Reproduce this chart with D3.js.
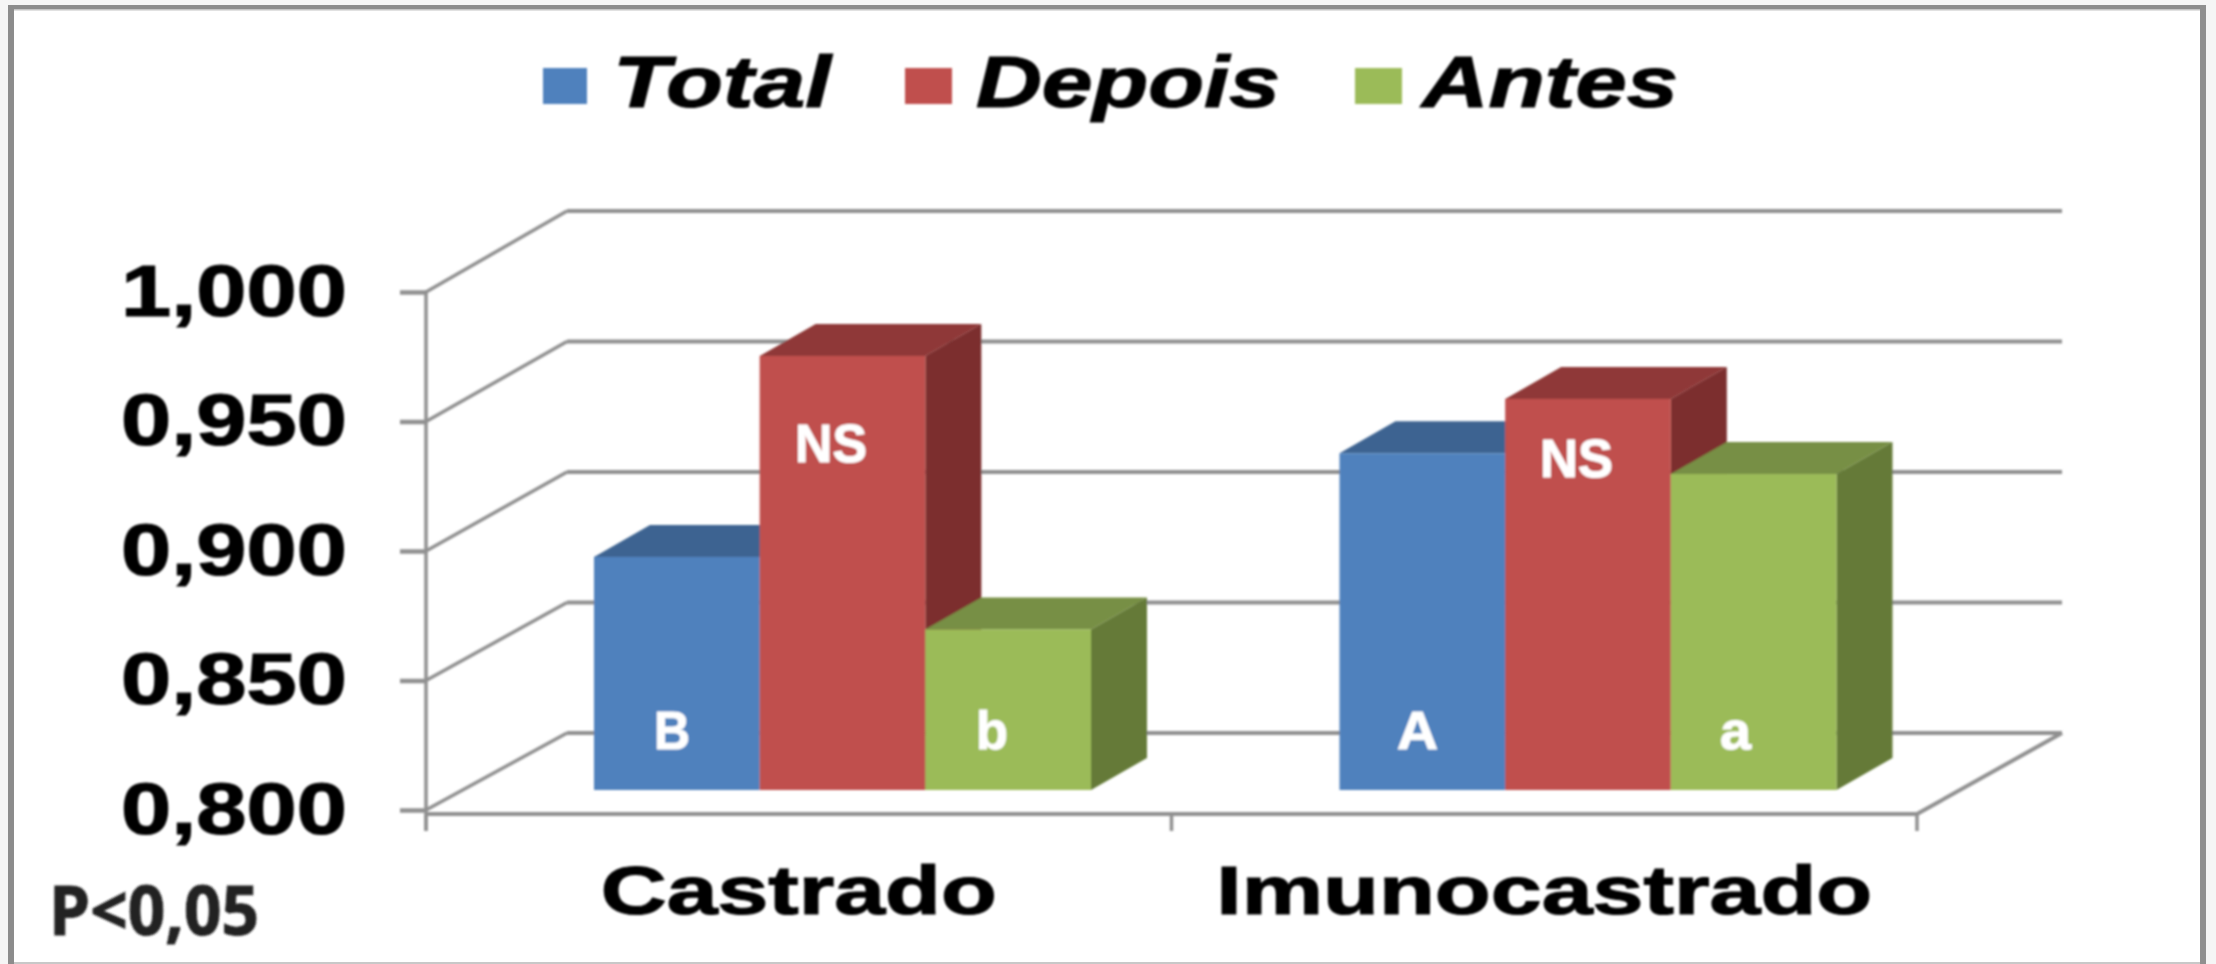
<!DOCTYPE html>
<html lang="pt">
<head>
<meta charset="utf-8">
<title>Total, Depois, Antes</title>
<script src="https://cdn.jsdelivr.net/npm/d3@7/dist/d3.min.js"></script>
<style>
html,body{margin:0;padding:0;background:#f5f5f5;overflow:hidden}
svg{display:block}
</style>
</head>
<body>
<svg id="chart" width="2216" height="964"></svg>
<script>
// ---- data ----
const categories = ["Castrado", "Imunocastrado"];
const seriesNames = ["Total", "Depois", "Antes"];
const totalValues = [0.890, 0.930];
const depoisValues = [0.9676, 0.951];
const antesValues = [0.862, 0.922];
const yTicks = [0.8, 0.85, 0.9, 0.95, 1.0];
const seriesColors = ["#4f81bd", "#c0504d", "#9bbb59"];
const topColors = ["#3e6491", "#8f3937", "#778f45"];
const sideColors = ["#355a85", "#7b2f2e", "#657a38"];
const barLetters = [["B", "NS", "b"], ["A", "NS", "a"]];

// ---- layout ----
const svg = d3.select("#chart");
const W = 2216, H = 964;
const LATIN = "'Liberation Sans', Arial, sans-serif";
const GRID = "#909090";
const wall = {x: 426, backX: 567, rightBack: 2062, rightFront: 1917};
const depth = {dx: 56, dy: 32};

const yFront = d3.scaleLinear().domain([0.8, 1]).range([810, 292]);
const yBack = d3.scaleLinear().domain([0.8, 1]).range([733, 211]);
const yBar = d3.scaleLinear().domain([0.8, 1]).range([790, 272]);
const x0 = d3.scaleBand().domain(categories).range([wall.x, wall.rightFront]);
const x1 = d3.scaleBand().domain(seriesNames).range([168, 665]);
const valuesBySeries = [totalValues, depoisValues, antesValues];

const defs = svg.append("defs");
defs.append("filter").attr("id", "soft").attr("x", "-2%").attr("y", "-2%").attr("width", "104%").attr("height", "104%")
  .append("feGaussianBlur").attr("stdDeviation", 1.1);

// frame and page
svg.append("rect").attr("width", W).attr("height", H).attr("fill", "#f5f5f5");
svg.append("rect").attr("x", 14).attr("y", 9).attr("width", 2186).attr("height", 953).attr("fill", "#fff");
const frame = svg.append("g");
frame.append("rect").attr("x", 8).attr("y", 5).attr("width", 6).attr("height", 959).attr("fill", "#8c8c8c");
frame.append("rect").attr("x", 8).attr("y", 5).attr("width", 2198).attr("height", 4).attr("fill", "#8c8c8c");
frame.append("rect").attr("x", 2200).attr("y", 5).attr("width", 6).attr("height", 959).attr("fill", "#8f8f8f");
frame.append("rect").attr("x", 14).attr("y", 9).attr("width", 2186).attr("height", 1.5).attr("fill", "#c4c4c4");
frame.append("rect").attr("x", 14).attr("y", 962).attr("width", 2186).attr("height", 2).attr("fill", "#c8c8c8");

const root = svg.append("g").attr("filter", "url(#soft)");

// back wall gridlines and side wall diagonals
const grid = root.append("g").attr("fill", "none").attr("stroke", GRID);
grid.selectAll("line.back").data(yTicks).join("line").attr("class", "back")
  .attr("x1", wall.backX).attr("x2", wall.rightBack)
  .attr("y1", d => yBack(d)).attr("y2", d => yBack(d)).attr("stroke-width", 4);
grid.selectAll("line.side").data(yTicks).join("line").attr("class", "side")
  .attr("x1", wall.x).attr("x2", wall.backX)
  .attr("y1", d => yFront(d)).attr("y2", d => yBack(d)).attr("stroke-width", 3.5);

// floor edges
const floorY = yFront(0.8) + 4;
grid.append("path")
  .attr("d", `M${wall.x},${floorY}L${wall.rightFront},${floorY}L${wall.rightBack},${yBack(0.8)}`)
  .attr("stroke-width", 4);

// y axis with ticks and labels
const axisY = root.append("g").attr("transform", `translate(${wall.x},0)`)
  .call(d3.axisLeft(yFront).tickValues(yTicks).tickSize(26)
    .tickFormat(d => d3.format(".3f")(d).replace(".", ",")));
axisY.select(".domain").remove();
axisY.append("line").attr("y1", yFront(1)).attr("y2", 831).attr("stroke", GRID).attr("stroke-width", 3.5);
axisY.selectAll(".tick line").attr("stroke", GRID).attr("stroke-width", 4.5);
axisY.selectAll(".tick text")
  .attr("x", -79).attr("y", 23).attr("dy", 0)
  .attr("text-anchor", "end").attr("fill", "#000")
  .attr("stroke", "#000").attr("stroke-width", 1.2)
  .style("font", `bold 72px ${LATIN}`)
  .attr("textLength", 226).attr("lengthAdjust", "spacingAndGlyphs");

// x axis ticks at the category boundaries
const xBoundaries = [...categories.map(c => x0(c)), wall.rightFront];
root.append("g").selectAll("line").data(xBoundaries).join("line")
  .attr("x1", d => d).attr("x2", d => d).attr("y1", floorY).attr("y2", 831)
  .attr("stroke", GRID).attr("stroke-width", 3.5);

// 3D bars
categories.forEach((cat, ci) => {
  const group = root.append("g").attr("transform", `translate(${x0(cat)},0)`);
  seriesNames.forEach((name, si) => {
    const v = valuesBySeries[si][ci];
    const l = x1(name), r = l + x1.bandwidth(), t = yBar(v), b = yBar(0.8);
    const g = group.append("g");
    g.append("path").attr("fill", sideColors[si])
      .attr("d", d3.line()([[r, t], [r + depth.dx, t - depth.dy], [r + depth.dx, b - depth.dy], [r, b]]) + "Z");
    g.append("path").attr("fill", topColors[si])
      .attr("d", d3.line()([[l, t], [l + depth.dx, t - depth.dy], [r + depth.dx, t - depth.dy], [r, t]]) + "Z");
    g.append("rect").attr("x", l).attr("y", t).attr("width", r - l).attr("height", b - t)
      .attr("fill", seriesColors[si]);
  });
});

// white letters on the bars
const letterBoxes = [
  [{x: 654, w: 36, y: 749}, {x: 795, w: 72, y: 462}, {x: 976, w: 32, y: 749}],
  [{x: 1397, w: 41, y: 749}, {x: 1540, w: 73, y: 477}, {x: 1720, w: 31, y: 749}]
];
barLetters.forEach((row, ci) => row.forEach((txt, si) => {
  const p = letterBoxes[ci][si];
  root.append("text").text(txt).attr("x", p.x).attr("y", p.y).attr("fill", "#fff")
    .attr("stroke", "#fff").attr("stroke-width", 1)
    .style("font", `bold 54px ${LATIN}`)
    .attr("textLength", p.w).attr("lengthAdjust", "spacingAndGlyphs");
}));

// category labels
const catWidths = [396, 656];
root.append("g").selectAll("text").data(categories).join("text")
  .text(d => d)
  .attr("x", d => x0(d) + x0.bandwidth() / 2).attr("y", 914)
  .attr("text-anchor", "middle").attr("fill", "#000")
  .attr("stroke", "#000").attr("stroke-width", 1.2)
  .style("font", `bold 69px ${LATIN}`)
  .attr("textLength", (d, i) => catWidths[i]).attr("lengthAdjust", "spacingAndGlyphs");

// legend
const legendItems = [{sx: 543, sw: 44, tx: 613, tw: 218}, {sx: 905, sw: 47, tx: 976, tw: 304}, {sx: 1355, sw: 47, tx: 1422, tw: 256}];
const legend = root.append("g");
legend.selectAll("rect").data(seriesNames).join("rect")
  .attr("x", (d, i) => legendItems[i].sx).attr("y", 68)
  .attr("width", (d, i) => legendItems[i].sw).attr("height", 36)
  .attr("fill", (d, i) => seriesColors[i]);
legend.selectAll("text").data(seriesNames).join("text")
  .text(d => d)
  .attr("x", (d, i) => legendItems[i].tx).attr("y", 107).attr("fill", "#000")
  .attr("stroke", "#000").attr("stroke-width", 1.2)
  .style("font", `italic bold 72px ${LATIN}`)
  .attr("textLength", (d, i) => legendItems[i].tw).attr("lengthAdjust", "spacingAndGlyphs");

// significance note
root.append("text").text("P<0,05").attr("x", 49).attr("y", 935).attr("fill", "#222")
  .attr("stroke", "#222").attr("stroke-width", 1)
  .style("font", "bold 68px 'Open Sans', sans-serif")
  .attr("textLength", 210).attr("lengthAdjust", "spacingAndGlyphs");
</script>
</body>
</html>
